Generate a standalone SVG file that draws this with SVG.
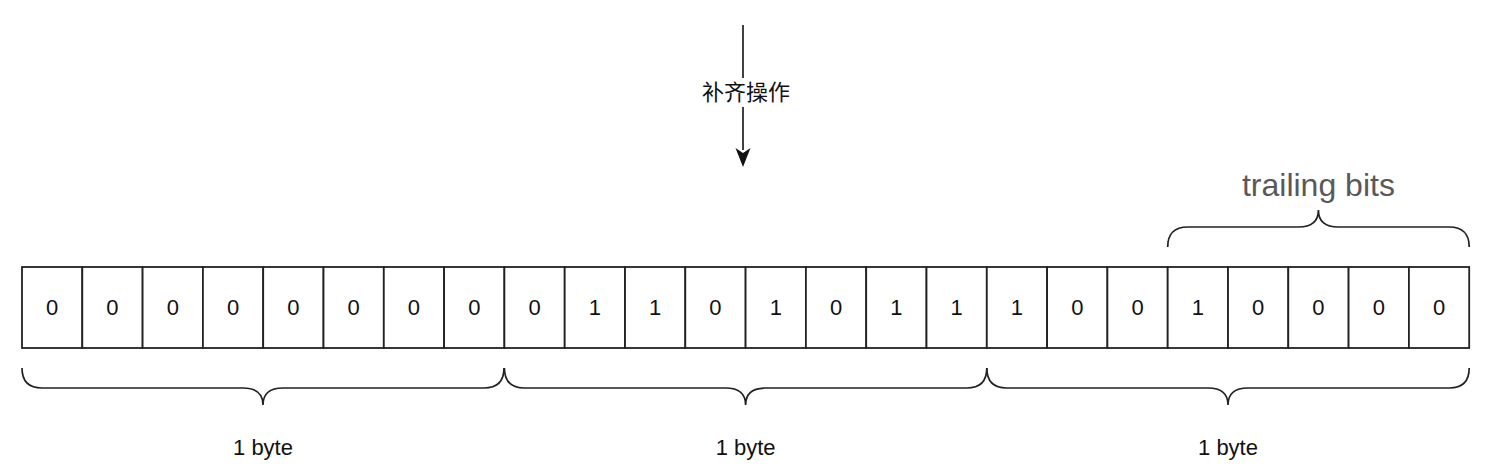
<svg xmlns="http://www.w3.org/2000/svg" width="1495" height="473" viewBox="0 0 1495 473">
<style>
.cell{fill:#fff;stroke:#222;stroke-width:1.8}
.bit{font-family:"Liberation Sans",Arial,sans-serif;font-size:22px;fill:#111;text-anchor:middle}
.lbl{font-family:"Liberation Sans",Arial,sans-serif;font-size:22px;fill:#111;text-anchor:middle}
.brace{fill:none;stroke:#222;stroke-width:1.7}
.conn{fill:none;stroke:#111;stroke-width:1.6}
</style>
<g id="connectors">
<line class="conn" x1="743" y1="25" x2="743" y2="78"/>
<line class="conn" x1="743" y1="107" x2="743" y2="150"/>
<path d="M735.5,148 L743,153 L750.5,148 L743,167 Z" fill="#111"/>
</g>
<g id="label-pad">
<text x="746" y="99.5" font-family="'Noto Sans CJK SC','Noto Sans',sans-serif" font-size="22" fill="#111" text-anchor="middle">补齐操作</text>
</g>
<g id="cells">
<g id="c0"><rect class="cell" x="22" y="267" width="60.3" height="81"/><text class="bit" x="52.15" y="315">0</text></g>
<g id="c1"><rect class="cell" x="82.3" y="267" width="60.3" height="81"/><text class="bit" x="112.45" y="315">0</text></g>
<g id="c2"><rect class="cell" x="142.6" y="267" width="60.3" height="81"/><text class="bit" x="172.75" y="315">0</text></g>
<g id="c3"><rect class="cell" x="202.9" y="267" width="60.3" height="81"/><text class="bit" x="233.05" y="315">0</text></g>
<g id="c4"><rect class="cell" x="263.2" y="267" width="60.3" height="81"/><text class="bit" x="293.35" y="315">0</text></g>
<g id="c5"><rect class="cell" x="323.5" y="267" width="60.3" height="81"/><text class="bit" x="353.65" y="315">0</text></g>
<g id="c6"><rect class="cell" x="383.8" y="267" width="60.3" height="81"/><text class="bit" x="413.95" y="315">0</text></g>
<g id="c7"><rect class="cell" x="444.1" y="267" width="60.3" height="81"/><text class="bit" x="474.25" y="315">0</text></g>
<g id="c8"><rect class="cell" x="504.4" y="267" width="60.3" height="81"/><text class="bit" x="534.55" y="315">0</text></g>
<g id="c9"><rect class="cell" x="564.7" y="267" width="60.3" height="81"/><text class="bit" x="594.85" y="315">1</text></g>
<g id="c10"><rect class="cell" x="625" y="267" width="60.3" height="81"/><text class="bit" x="655.15" y="315">1</text></g>
<g id="c11"><rect class="cell" x="685.3" y="267" width="60.3" height="81"/><text class="bit" x="715.45" y="315">0</text></g>
<g id="c12"><rect class="cell" x="745.6" y="267" width="60.3" height="81"/><text class="bit" x="775.75" y="315">1</text></g>
<g id="c13"><rect class="cell" x="805.9" y="267" width="60.3" height="81"/><text class="bit" x="836.05" y="315">0</text></g>
<g id="c14"><rect class="cell" x="866.2" y="267" width="60.3" height="81"/><text class="bit" x="896.35" y="315">1</text></g>
<g id="c15"><rect class="cell" x="926.5" y="267" width="60.3" height="81"/><text class="bit" x="956.65" y="315">1</text></g>
<g id="c16"><rect class="cell" x="986.8" y="267" width="60.3" height="81"/><text class="bit" x="1016.95" y="315">1</text></g>
<g id="c17"><rect class="cell" x="1047.1" y="267" width="60.3" height="81"/><text class="bit" x="1077.25" y="315">0</text></g>
<g id="c18"><rect class="cell" x="1107.4" y="267" width="60.3" height="81"/><text class="bit" x="1137.55" y="315">0</text></g>
<g id="c19"><rect class="cell" x="1167.7" y="267" width="60.3" height="81"/><text class="bit" x="1197.85" y="315">1</text></g>
<g id="c20"><rect class="cell" x="1228" y="267" width="60.3" height="81"/><text class="bit" x="1258.15" y="315">0</text></g>
<g id="c21"><rect class="cell" x="1288.3" y="267" width="60.3" height="81"/><text class="bit" x="1318.45" y="315">0</text></g>
<g id="c22"><rect class="cell" x="1348.6" y="267" width="60.3" height="81"/><text class="bit" x="1378.75" y="315">0</text></g>
<g id="c23"><rect class="cell" x="1408.9" y="267" width="60.3" height="81"/><text class="bit" x="1439.05" y="315">0</text></g>
</g>
<g id="byte1">
<path class="brace" d="M22,368 Q22,388 42,388 L243,388 Q263,388 263,405 Q263,388 283,388 L484,388 Q504,388 504,368"/>
<text class="lbl" x="263" y="455">1 byte</text>
</g>
<g id="byte2">
<path class="brace" d="M504.4,368 Q504.4,388 524.4,388 L725.6,388 Q745.6,388 745.6,405 Q745.6,388 765.6,388 L966.8,388 Q986.8,388 986.8,368"/>
<text class="lbl" x="745.6" y="455">1 byte</text>
</g>
<g id="byte3">
<path class="brace" d="M986.8,368 Q986.8,388 1006.8,388 L1208,388 Q1228,388 1228,405 Q1228,388 1248,388 L1449.2,388 Q1469.2,388 1469.2,368"/>
<text class="lbl" x="1228" y="455">1 byte</text>
</g>
<g id="trailing">
<path class="brace" d="M1167.7,247 Q1167.7,227 1187.7,227 L1298.4,227 Q1318.4,227 1318.4,210 Q1318.4,227 1338.4,227 L1449.2,227 Q1469.2,227 1469.2,247"/>
<text x="1318.4" y="196" font-family="'Liberation Sans',Arial,sans-serif" font-size="32" fill="#595959" text-anchor="middle">trailing bits</text>
</g>
</svg>
